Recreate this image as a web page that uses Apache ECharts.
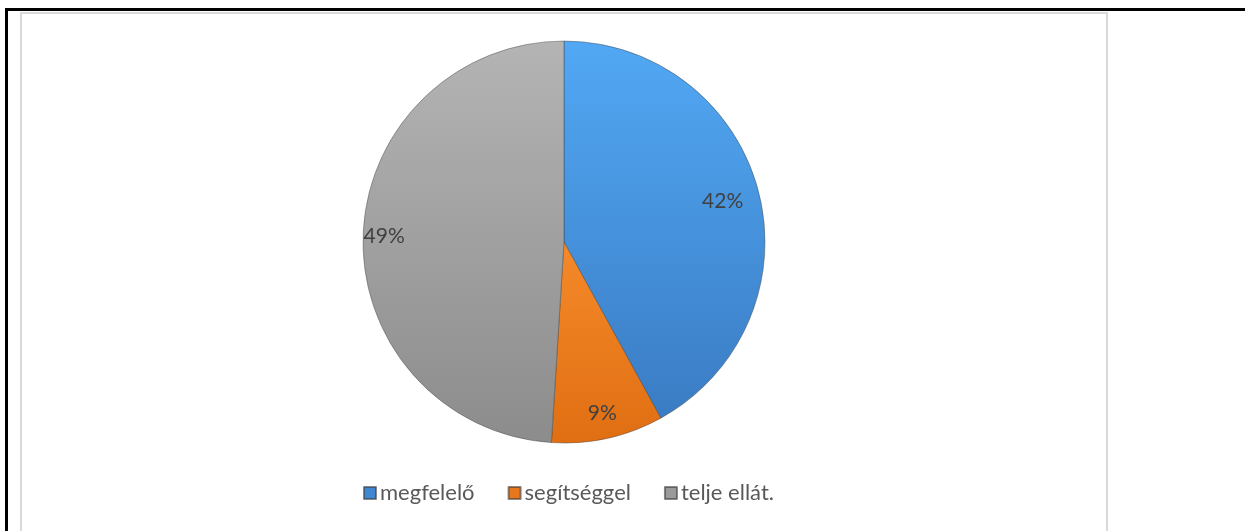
<!DOCTYPE html>
<html>
<head>
<meta charset="utf-8">
<script src="https://cdn.jsdelivr.net/npm/echarts@6/dist/echarts.min.js"></script>
<style>
  html, body { margin: 0; padding: 0; background: #fff; }
  #wrap { position: relative; width: 1245px; height: 531px; overflow: hidden; }
  #chart { position: absolute; left: 0; top: 0; width: 1245px; height: 531px; }
  .b { position: absolute; }
</style>
</head>
<body>
<div id="wrap">
  <div class="b" style="left:5px;top:8px;width:1240px;height:3px;background:#000"></div>
  <div class="b" style="left:5px;top:8px;width:3px;height:523px;background:#000"></div>
  <div class="b" style="left:20px;top:12px;width:1088px;height:2px;background:#d9d9d9"></div>
  <div class="b" style="left:20px;top:12px;width:2px;height:519px;background:#d9d9d9"></div>
  <div class="b" style="left:1106px;top:12px;width:2px;height:519px;background:#d9d9d9"></div>
  <div id="chart"></div>
</div>
<script>
const categories = ['megfelelő', 'segítséggel', 'telje ellát.'];
const values = [42, 9, 49];
const labels = ['42%', '9%', '49%'];

const fills = [
  ['#52a8f4', '#3a7cc4'],
  ['#f58a2a', '#e06e12'],
  ['#b4b4b4', '#8c8c8c']
];
const legendIcons = ['#3f87d0', '#e8761a', '#9a9a9a'];
// relative radius (of pie radius) at which each label sits
const labelRadius = [0.8, 0.86, 0.88];

function grad(c) {
  return new echarts.graphic.LinearGradient(0, 0, 0, 1, [
    { offset: 0, color: c[0] }, { offset: 1, color: c[1] }
  ]);
}

const chart = echarts.init(document.getElementById('chart'));
const center = [564, 242];
const R = 201;

const labelSeries = labels.map((lab, k) => ({
  type: 'pie',
  silent: true,
  center: center,
  radius: [0, R * labelRadius[k] * 2],
  startAngle: 90,
  clockwise: true,
  legendHoverLink: false,
  itemStyle: { color: 'rgba(0,0,0,0)' },
  labelLine: { show: false },
  emphasis: { disabled: true },
  data: categories.map((c, i) => ({
    name: c + ' '.repeat(k + 1), value: values[i],
    label: {
      show: i === k, position: 'inside',
      formatter: () => labels[i],
      fontFamily: 'Lato, sans-serif', fontSize: 21, color: '#404040'
    }
  }))
}));

chart.setOption({
  animation: false,
  legend: {
    left: 358,
    top: 477,
    itemWidth: 12,
    itemHeight: 12,
    itemGap: 33,
    icon: 'rect',
    textStyle: { fontFamily: 'Lato, sans-serif', fontSize: 22, color: '#595959', padding: [0, 0, 0, -1] },
    data: categories.map((c, i) => ({ name: c, itemStyle: { color: legendIcons[i] } }))
  },
  series: [
    {
      type: 'pie',
      center: center,
      radius: [0, R],
      startAngle: 90,
      clockwise: true,
      label: { show: false },
      labelLine: { show: false },
      itemStyle: { borderColor: 'rgba(60,60,60,0.6)', borderWidth: 0.7 },
      emphasis: { disabled: true },
      data: categories.map((c, i) => ({
        name: c, value: values[i],
        itemStyle: { color: grad(fills[i]) }
      }))
    }
  ].concat(labelSeries)
});
</script>
</body>
</html>
